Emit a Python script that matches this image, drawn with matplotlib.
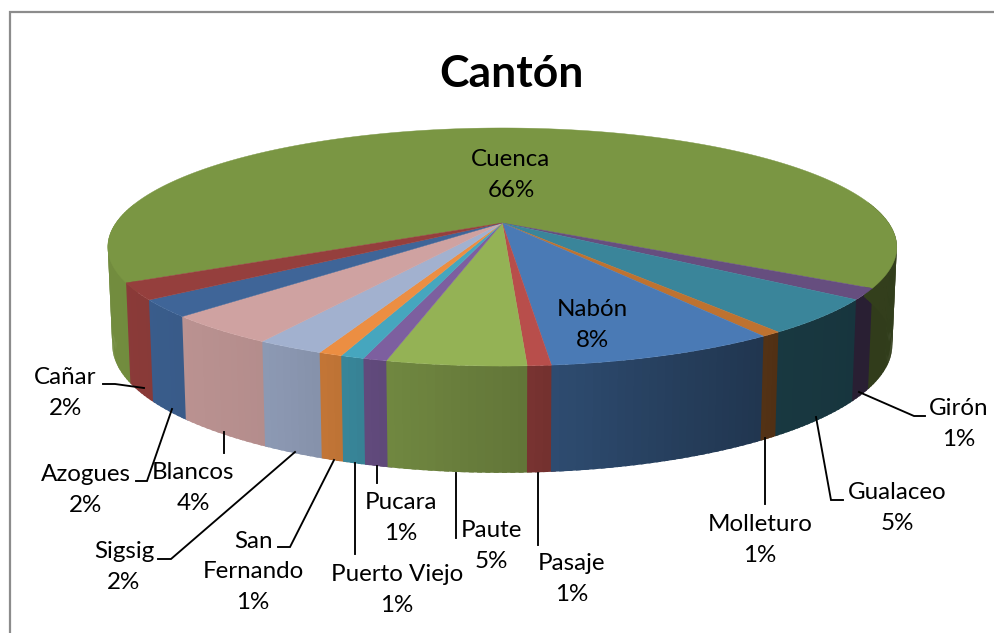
import numpy as np
import matplotlib
matplotlib.use("Agg")
import matplotlib.pyplot as plt
from matplotlib.collections import PolyCollection

# Data (clockwise from the Cuenca slice)
cantones = ["Cuenca", "Girón", "Gualaceo", "Molleturo", "Nabón", "Pasaje", "Paute",
            "Pucara", "Puerto Viejo", "San Fernando", "Sigsig", "Blancos", "Azogues", "Cañar"]
valores = [66.4, 1.5, 4.7, 0.7, 7.9, 0.8, 4.7, 0.8, 0.8, 0.8, 2.3, 4.0, 2.3, 2.25]
etiquetas_pct = ["66%", "1%", "5%", "1%", "8%", "1%", "5%", "1%", "1%", "1%", "2%", "4%", "2%", "2%"]
colores = ["#7A9643", "#664E7F", "#3A859A", "#BE7230", "#4A7AB5", "#B84E4B", "#94B255",
           "#7D5F9F", "#46A6BE", "#EC8E42", "#A2B1CF", "#CFA2A1", "#3F6598", "#953F3D"]

# Layout: label centres and leader lines in pixel coordinates
nombres_etiqueta = {"San Fernando": "San\nFernando"}
pos_etiqueta = {"Cuenca": (511, 175), "Nabón": (592, 325), "Cañar": (65, 393), "Azogues": (86, 490),
                "Blancos": (193, 488), "Sigsig": (124, 567), "San Fernando": (253, 572),
                "Puerto Viejo": (397, 590), "Pucara": (401, 518), "Paute": (491, 546),
                "Pasaje": (572, 579), "Molleturo": (760, 540), "Gualaceo": (897, 508), "Girón": (959, 424)}
guias = [[(103, 384), (115, 384), (144, 388)],
         [(136, 481), (147, 481), (172, 409)],
         [(224, 432), (224, 453)],
         [(158, 559), (171, 559), (295, 452)],
         [(278, 547), (290, 547), (334, 460)],
         [(355, 463), (355, 554)],
         [(377, 466), (377, 483)],
         [(456, 473), (456, 538)],
         [(538, 473), (538, 545)],
         [(765, 438), (765, 504)],
         [(816, 417), (831, 500), (843, 500)],
         [(859, 392), (914, 416), (925, 416)]]

FUENTE = "Lato"
START = -61.7  # angle of first slice edge, from front, positive toward the right
P = 0.2017
CX = 502.3
CY = 223


def top(th):
    t = np.radians(th)
    u, w = np.sin(t), np.cos(t)  # w = 1 at front
    d = 1 - P * w
    return CX + 386.4 * u / d, CY + 114.2 * w / d


def bottom(th):
    t = np.radians(th)
    u, w = np.sin(t), np.cos(t)
    d = 1 - P * w
    return CX + 382.0 * u / d, 319.0 + 122.8 * w / d


def shade(th):
    return np.interp(th, [-100, -62, -45, -31, -22, -14, 3, 6, 20, 34, 37, 54, 60, 100],
                     [.94, .93, .90, .87, .82, .76, .66, .62, .52, .44, .42, .40, .40, .42])


def wrap(a):
    return (a + 180) % 360 - 180


fig = plt.figure(figsize=(9.94, 6.33), dpi=100)
ax = fig.add_axes([0, 0, 1, 1])
ax.set_xlim(0, 994)
ax.set_ylim(633, 0)
ax.axis("off")

# frame
ax.plot([10, 10, 994], [633, 12, 12], color="#8C8C8C", lw=1.6, solid_joinstyle="miter", zorder=1)

# slice angular ranges
fr = np.asarray(valores) / sum(valores) * 360
ends = START - np.cumsum(fr)
starts = np.concatenate([[START], ends[:-1]])

# side wall: overlapping strips painted left to right so no seams appear
tiras = []
for s, e, c in zip(starts, ends, colores):
    rgb = np.array(matplotlib.colors.to_rgb(c))
    n = max(1, int(round((s - e) / 1.0)))
    ths = np.linspace(e, s, n + 1)
    for a, b in zip(ths[:-1], ths[1:]):
        m = wrap((a + b) / 2)
        if abs(m) > 100:
            continue
        a2 = m - (b - a) / 2
        b2 = m + (b - a) / 2
        tiras.append((a2, b2, tuple(rgb * shade(m))))
tiras.sort(key=lambda t: t[0])
for a, b, col in tiras:
    b3 = b + 0.6
    ts = np.linspace(a, b3, 4)
    xt, yt = top(ts)
    xb, yb = bottom(ts)
    ax.fill(np.r_[xt, xb[::-1]], np.r_[yt, yb[::-1]], facecolor=col, edgecolor="none", zorder=2)

# top face
for s, e, c in zip(starts, ends, colores):
    ths = np.linspace(e, s, max(3, int(abs(s - e) * 2)))
    xs, ys = top(ths)
    ax.fill(np.r_[CX, xs], np.r_[CY, ys], facecolor=c, edgecolor=c, lw=0.3, zorder=3)

# leaders
for g in guias:
    xs, ys = zip(*g)
    ax.plot(xs, ys, color="black", lw=1.35, solid_joinstyle="miter", zorder=4)

# labels
for nombre, pct in zip(cantones, etiquetas_pct):
    x, y = pos_etiqueta[nombre]
    ax.text(x, y, nombres_etiqueta.get(nombre, nombre) + "\n" + pct, ha="center", va="center",
            fontsize=17.4, family=FUENTE, color="black", linespacing=1.56, zorder=5)

ax.text(511, 74, "Cantón", ha="center", va="center", fontsize=32, family=FUENTE,
        fontweight="bold", color="black", zorder=5)

fig.savefig("out.png", dpi=100, facecolor="white")
